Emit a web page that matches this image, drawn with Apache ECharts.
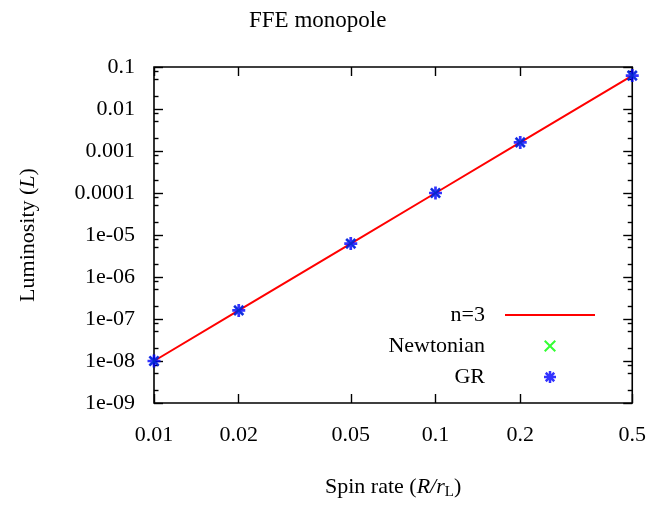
<!DOCTYPE html>
<html>
<head>
<meta charset="utf-8">
<script src="https://cdn.jsdelivr.net/npm/echarts@6/dist/echarts.min.js"></script>
<style>html,body{margin:0;padding:0;background:#fff}#c{width:649px;height:505px}</style>
</head>
<body>
<div id="c"></div>
<script>
// ---- data ----
const spinRate = [0.01, 0.02, 0.05, 0.1, 0.2, 0.5];
const newtonianL = [1e-8, 1.6e-7, 6.25e-6, 1e-4, 1.6e-3, 6.25e-2];
const grL = [1e-8, 1.6e-7, 6.25e-6, 1e-4, 1.6e-3, 6.25e-2];
const fitSpin = [0.01, 0.02, 0.05, 0.1, 0.2, 0.5];
const fitL = [1e-8, 1.6e-7, 6.25e-6, 1e-4, 1.6e-3, 6.25e-2];
const xTickValues = [0.01, 0.02, 0.05, 0.1, 0.2, 0.5];
const xTickLabels = ['0.01', '0.02', '0.05', '0.1', '0.2', '0.5'];
const yTickValues = [1e-9, 1e-8, 1e-7, 1e-6, 1e-5, 1e-4, 1e-3, 1e-2, 1e-1];
const yTickLabels = ['1e-09', '1e-08', '1e-07', '1e-06', '1e-05', '0.0001', '0.001', '0.01', '0.1'];
const yMinorFactors = [2, 5, 8];
const seriesNames = ['n=3', 'Newtonian', 'GR'];
const titleText = 'FFE monopole';

// ---- helpers ----
const lg = Math.log10;
const FONT = 'Liberation Serif';
const FS = 22;
const xMin = lg(xTickValues[0]), xMax = lg(xTickValues[xTickValues.length - 1]);
const yMin = lg(yTickValues[0]), yMax = lg(yTickValues[yTickValues.length - 1]);
const xMajor = xTickValues.map(lg);
const yMajor = yTickValues.map(lg);
const yMinor = [];
yTickValues.slice(0, -1).forEach(v => yMinorFactors.forEach(f => yMinor.push(lg(v * f))));
const xLabelMap = {}; xMajor.forEach((v, i) => xLabelMap[v.toFixed(6)] = xTickLabels[i]);
const yLabelMap = {}; yMajor.forEach((v, i) => yLabelMap[v.toFixed(6)] = yTickLabels[i]);

// symbols
function starPath() {
  const w = 2.1, R = 5, c = 5;
  const pts = [];
  const ri = (w / 2) / Math.sin(Math.PI / 8);
  for (let k = 0; k < 8; k++) {
    const a = k * Math.PI / 4;
    const ca = Math.cos(a), sa = Math.sin(a);
    const px = -sa, py = ca;
    pts.push([c + R * ca - w / 2 * px, c + R * sa - w / 2 * py]);
    pts.push([c + R * ca + w / 2 * px, c + R * sa + w / 2 * py]);
    const b = a + Math.PI / 8;
    pts.push([c + ri * Math.cos(b), c + ri * Math.sin(b)]);
  }
  return 'path://M' + pts.map(p => p[0].toFixed(3) + ',' + p[1].toFixed(3)).join(' L') + ' Z';
}
const crossPath = 'path://M0,1.2 L1.2,0 L5,3.8 L8.8,0 L10,1.2 L6.2,5 L10,8.8 L8.8,10 L5,6.2 L1.2,10 L0,8.8 L3.8,5 Z';

const baseX = (extra) => Object.assign({
  type: 'value', min: xMin, max: xMax, gridIndex: 0,
  axisLine: { show: false }, splitLine: { show: false },
  axisLabel: { show: false }, axisTick: { show: false }
}, extra);
const baseY = (extra) => Object.assign({
  type: 'value', min: yMin, max: yMax, gridIndex: 0,
  axisLine: { show: false }, splitLine: { show: false },
  axisLabel: { show: false }, axisTick: { show: false }
}, extra);
const tick = (vals, len) => ({ show: true, inside: true, length: len, customValues: vals, lineStyle: { color: '#000', width: 1.4 } });

const option = {
  animation: false,
  backgroundColor: '#fff',
  textStyle: { fontFamily: FONT },
  title: {
    text: titleText, left: 244, top: 4,
    textStyle: { fontFamily: FONT, fontSize: 23, fontWeight: 'normal', color: '#000' }
  },
  grid: { left: 154, right: 15, top: 67, bottom: 101, show: true, borderColor: '#000', borderWidth: 1.6, backgroundColor: 'transparent' },
  xAxis: [
    baseX({
      position: 'bottom',
      axisTick: tick(xMajor, 9),
      axisLabel: { show: true, customValues: xMajor, margin: 21, fontFamily: FONT, fontSize: FS, color: '#000',
        formatter: v => xLabelMap[v.toFixed(6)] || '' },
      name: '{t|Spin rate (}{i|R/r}{s|L}{t|)}', nameLocation: 'middle', nameGap: 71,
      nameTextStyle: { rich: {
        t: { fontFamily: FONT, fontSize: FS, color: '#000' },
        i: { fontFamily: FONT, fontSize: FS, fontStyle: 'italic', color: '#000' },
        s: { fontFamily: FONT, fontSize: 15, color: '#000', padding: [11, 0, 0, 0] }
      } }
    }),
    baseX({ position: 'top', axisTick: tick(xMajor, 9) })
  ],
  yAxis: [
    baseY({
      position: 'left',
      axisTick: tick(yMajor, 9),
      axisLabel: { show: true, customValues: yMajor, margin: 19, fontFamily: FONT, fontSize: FS, color: '#000',
        formatter: v => yLabelMap[v.toFixed(6)] || '' },
      name: '{t|Luminosity (}{i|L}{t|)}', nameLocation: 'middle', nameGap: 115,
      nameTextStyle: { rich: {
        t: { fontFamily: FONT, fontSize: FS, color: '#000' },
        i: { fontFamily: FONT, fontSize: FS, fontStyle: 'italic', color: '#000' }
      } }
    }),
    baseY({ position: 'left', axisTick: tick(yMinor, 4.5) }),
    baseY({ position: 'right', axisTick: tick(yMajor, 9) }),
    baseY({ position: 'right', axisTick: tick(yMinor, 4.5) })
  ],
  legend: {
    orient: 'vertical', align: 'right', right: 48, top: 299,
    itemWidth: 90, itemHeight: 12, itemGap: 9,
    textStyle: { fontFamily: FONT, fontSize: FS, color: '#000', padding: [0, 15, 0, 0] },
    data: [
      { name: seriesNames[0], itemStyle: { opacity: 0 } },
      { name: seriesNames[1] },
      { name: seriesNames[2] }
    ]
  },
  series: [
    {
      name: seriesNames[0], type: 'line', xAxisIndex: 0, yAxisIndex: 0,
      showSymbol: false, symbol: 'none',
      lineStyle: { color: '#ff0000', width: 2 }, itemStyle: { color: '#ff0000' },
      data: fitSpin.map((x, i) => [lg(x), lg(fitL[i])]), z: 2
    },
    {
      name: seriesNames[1], type: 'scatter', xAxisIndex: 0, yAxisIndex: 0,
      symbol: crossPath, symbolSize: 10, itemStyle: { color: '#00ff00' },
      data: spinRate.map((x, i) => [lg(x), lg(newtonianL[i])]), z: 3
    },
    {
      name: seriesNames[2], type: 'scatter', xAxisIndex: 0, yAxisIndex: 0,
      symbol: starPath(), symbolSize: 13, itemStyle: { color: '#0000ff' },
      data: spinRate.map((x, i) => [lg(x), lg(grL[i])]), z: 4
    }
  ]
};
const chart = echarts.init(document.getElementById('c'), null, { renderer: 'canvas' });
chart.setOption(option);
</script>
</body>
</html>
